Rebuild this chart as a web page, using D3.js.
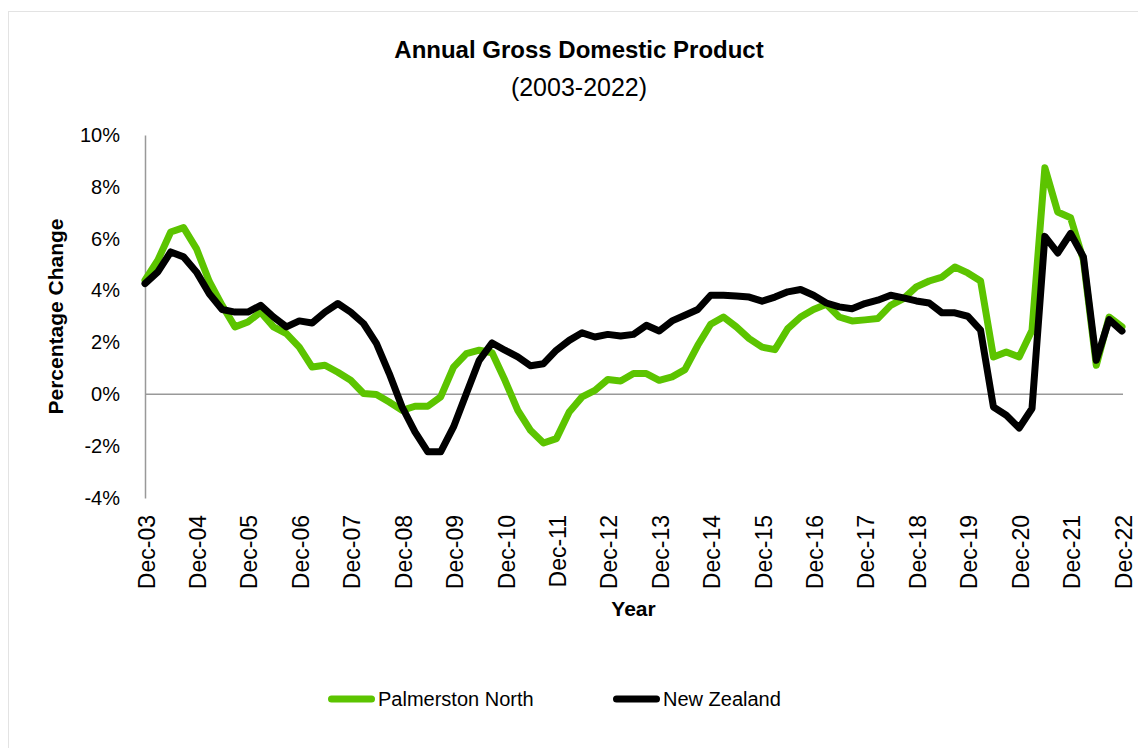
<!DOCTYPE html>
<html>
<head>
<meta charset="utf-8">
<script src="https://cdn.jsdelivr.net/npm/d3@7"></script>
<style>
  body { margin: 0; background: #fff; }
  svg { display: block; font-family: "Liberation Sans", Arial, sans-serif; }
</style>
</head>
<body>
<svg width="1138" height="748"></svg>
<script>
var quarters = [
  "Dec-03","Mar-04","Jun-04","Sep-04","Dec-04","Mar-05","Jun-05","Sep-05",
  "Dec-05","Mar-06","Jun-06","Sep-06","Dec-06","Mar-07","Jun-07","Sep-07",
  "Dec-07","Mar-08","Jun-08","Sep-08","Dec-08","Mar-09","Jun-09","Sep-09",
  "Dec-09","Mar-10","Jun-10","Sep-10","Dec-10","Mar-11","Jun-11","Sep-11",
  "Dec-11","Mar-12","Jun-12","Sep-12","Dec-12","Mar-13","Jun-13","Sep-13",
  "Dec-13","Mar-14","Jun-14","Sep-14","Dec-14","Mar-15","Jun-15","Sep-15",
  "Dec-15","Mar-16","Jun-16","Sep-16","Dec-16","Mar-17","Jun-17","Sep-17",
  "Dec-17","Mar-18","Jun-18","Sep-18","Dec-18","Mar-19","Jun-19","Sep-19",
  "Dec-19","Mar-20","Jun-20","Sep-20","Dec-20","Mar-21","Jun-21","Sep-21",
  "Dec-21","Mar-22","Jun-22","Sep-22","Dec-22"
];

var tickLabels = ["Dec-03","Dec-04","Dec-05","Dec-06","Dec-07","Dec-08","Dec-09",
  "Dec-10","Dec-11","Dec-12","Dec-13","Dec-14","Dec-15","Dec-16","Dec-17",
  "Dec-18","Dec-19","Dec-20","Dec-21","Dec-22"];

var yTicks = [-4, -2, 0, 2, 4, 6, 8, 10];

// annual % change, Palmerston North
var palmerston = [
  4.40, 5.17, 6.26, 6.43, 5.62, 4.35, 3.43, 2.60,
  2.79, 3.17, 2.60, 2.34, 1.82, 1.05, 1.12, 0.85,
  0.54, 0.03, -0.01, -0.30, -0.62, -0.46, -0.46, -0.10,
  1.05, 1.57, 1.70, 1.60, 0.54, -0.62, -1.40, -1.88,
  -1.71, -0.68, -0.10, 0.15, 0.57, 0.51, 0.80, 0.80,
  0.54, 0.67, 0.95, 1.89, 2.70, 2.98, 2.60, 2.15,
  1.82, 1.72, 2.53, 2.98, 3.27, 3.47, 2.98, 2.83,
  2.87, 2.92, 3.43, 3.69, 4.14, 4.37, 4.52, 4.91,
  4.68, 4.37, 1.44, 1.63, 1.44, 2.47, 8.74, 7.03,
  6.81, 5.17, 1.12, 2.98, 2.60
];

// annual % change, New Zealand
var newZealand = [
  4.27, 4.72, 5.49, 5.30, 4.72, 3.88, 3.27, 3.17,
  3.17, 3.43, 2.98, 2.60, 2.83, 2.75, 3.17, 3.50,
  3.17, 2.73, 1.96, 0.80, -0.49, -1.45, -2.22, -2.22,
  -1.26, 0.03, 1.31, 1.98, 1.70, 1.44, 1.10, 1.18,
  1.70, 2.08, 2.37, 2.21, 2.31, 2.25, 2.31, 2.66,
  2.44, 2.83, 3.05, 3.27, 3.82, 3.82, 3.79, 3.75,
  3.59, 3.75, 3.95, 4.04, 3.82, 3.52, 3.37, 3.30,
  3.50, 3.63, 3.82, 3.72, 3.60, 3.52, 3.14, 3.14,
  3.01, 2.47, -0.49, -0.81, -1.30, -0.55, 6.09, 5.45,
  6.20, 5.30, 1.31, 2.88, 2.44
];

var series = [
  { name: "Palmerston North", values: palmerston, color: "#5cc400" },
  { name: "New Zealand", values: newZealand, color: "#000000" }
];

var svg = d3.select("svg");

var plotLeft = 145, plotRight = 1122, plotTop = 135, plotBottom = 498;

var x = d3.scalePoint()
    .domain(quarters)
    .range([plotLeft, plotRight]);

var y = d3.scaleLinear()
    .domain([-4, 10])
    .range([plotBottom, plotTop]);

// outer chart border
svg.append("rect")
    .attr("x", 8.5)
    .attr("y", 11.5)
    .attr("width", 1160)
    .attr("height", 760)
    .attr("fill", "none")
    .attr("stroke", "#e3e3e3");

// titles
svg.append("text")
    .attr("x", 579)
    .attr("y", 58)
    .attr("text-anchor", "middle")
    .style("font-size", "24px")
    .style("font-weight", "bold")
    .text("Annual Gross Domestic Product");

svg.append("text")
    .attr("x", 579)
    .attr("y", 96)
    .attr("text-anchor", "middle")
    .style("font-size", "25px")
    .text("(2003-2022)");

// y axis
var yAxis = svg.append("g")
    .attr("transform", "translate(" + plotLeft + ",0)")
    .call(d3.axisLeft(y).tickValues(yTicks).tickSize(0).tickPadding(25)
      .tickFormat(function(d) { return d + "%"; }));

yAxis.select(".domain").attr("stroke", "#999").attr("stroke-width", 1.5);
yAxis.selectAll("text")
    .style("font-size", "20px")
    .style("font-family", "'Liberation Sans', Arial, sans-serif")
    .attr("fill", "#000");

// zero line
svg.append("line")
    .attr("x1", plotLeft)
    .attr("x2", plotRight + 1)
    .attr("y1", y(0))
    .attr("y2", y(0))
    .attr("stroke", "#999")
    .attr("stroke-width", 1.5);

// x labels at bottom of plot
var xAxis = svg.append("g")
    .attr("transform", "translate(0," + plotBottom + ")")
    .call(d3.axisBottom(x).tickValues(tickLabels).tickSize(0));

xAxis.select(".domain").remove();
xAxis.selectAll("text")
    .style("font-size", "23px")
    .style("font-family", "'Liberation Sans', Arial, sans-serif")
    .attr("fill", "#000")
    .attr("text-anchor", "end")
    .attr("transform", "translate(1,17) rotate(-90)")
    .attr("x", 0)
    .attr("y", 0)
    .attr("dy", "0.35em");

// axis titles
svg.append("text")
    .attr("transform", "translate(56," + ((plotTop + plotBottom) / 2) + ") rotate(-90)")
    .attr("text-anchor", "middle")
    .attr("dy", "0.35em")
    .style("font-size", "21px")
    .style("font-weight", "bold")
    .text("Percentage Change");

svg.append("text")
    .attr("x", (plotLeft + plotRight) / 2)
    .attr("y", 616)
    .attr("text-anchor", "middle")
    .style("font-size", "21px")
    .style("font-weight", "bold")
    .text("Year");

// lines
var line = d3.line()
    .x(function(d, i) { return x(quarters[i]); })
    .y(function(d) { return y(d); });

svg.append("g")
    .selectAll("path")
    .data(series)
    .enter().append("path")
      .attr("d", function(d) { return line(d.values); })
      .attr("fill", "none")
      .attr("stroke", function(d) { return d.color; })
      .attr("stroke-width", 7)
      .attr("stroke-linejoin", "round")
      .attr("stroke-linecap", "round");

// legend
var legendX = [328, 613];
var legend = svg.append("g")
    .selectAll("g")
    .data(series)
    .enter().append("g")
      .attr("transform", function(d, i) { return "translate(" + legendX[i] + ",699)"; });

legend.append("line")
    .attr("x1", 3.5)
    .attr("x2", 43.5)
    .attr("stroke", function(d) { return d.color; })
    .attr("stroke-width", 7)
    .attr("stroke-linecap", "round");

legend.append("text")
    .attr("x", 50)
    .attr("dy", "0.35em")
    .style("font-size", "20px")
    .text(function(d) { return d.name; });
</script>
</body>
</html>
